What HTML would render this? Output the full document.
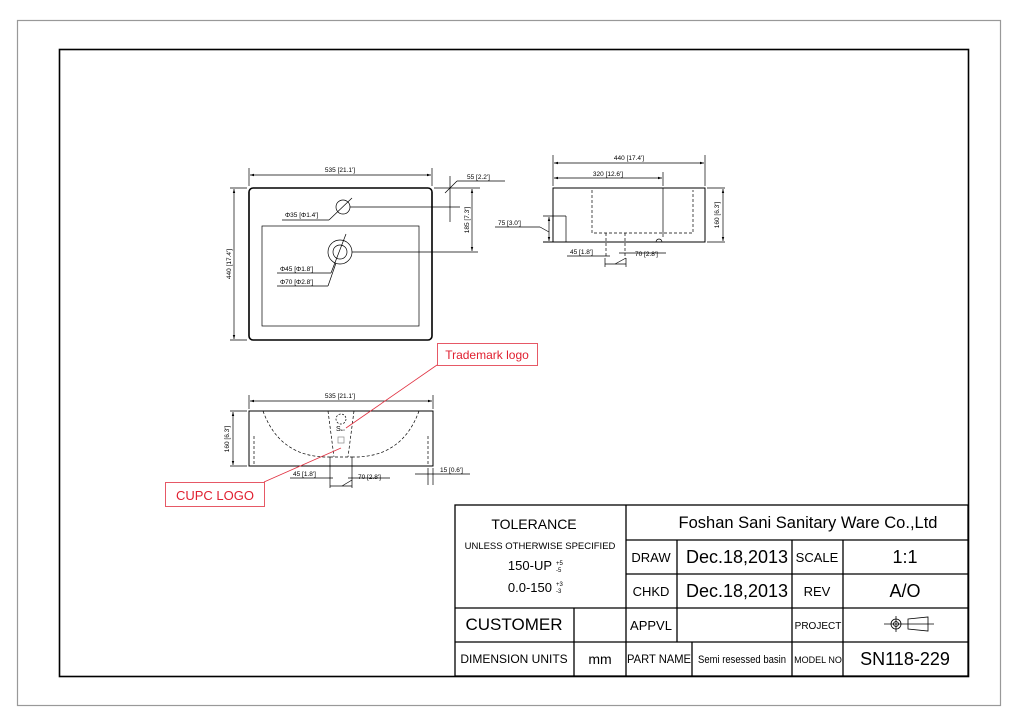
<!DOCTYPE html>
<html><head><meta charset="utf-8"><style>
html,body{margin:0;padding:0;background:#fff}
svg{display:block}
text{font-family:"Liberation Sans",Arial,sans-serif}
</style></head><body>
<svg width="1018" height="720" viewBox="0 0 1018 720" xmlns="http://www.w3.org/2000/svg">
<defs>
<marker id="a" viewBox="0 0 10 6" refX="10" refY="3" markerWidth="6" markerHeight="4" orient="auto-start-reverse"><path d="M0,0 L10,3 L0,6z" fill="#000"/></marker>
</defs>
<rect x="17.5" y="20.5" width="983" height="685" fill="none" stroke="#999" stroke-width="1.2"/>
<rect x="59.5" y="49.5" width="909" height="627" fill="none" stroke="#000" stroke-width="1.6"/>

<!-- TOP VIEW -->
<g stroke="#000" fill="none" stroke-width="0.7">
<rect x="249" y="188" width="183" height="152" rx="4" stroke-width="1.6"/>
<rect x="262" y="226" width="157" height="100"/>
<circle cx="343" cy="207" r="7"/>
<circle cx="340" cy="252" r="12"/>
<circle cx="340" cy="252" r="7"/>
<line x1="249" y1="168" x2="249" y2="186"/><line x1="432" y1="168" x2="432" y2="186"/>
<line x1="250" y1="175" x2="431" y2="175" marker-start="url(#a)" marker-end="url(#a)"/>
<line x1="230" y1="188" x2="247" y2="188"/><line x1="230" y1="340" x2="247" y2="340"/>
<line x1="234" y1="189" x2="234" y2="339" marker-start="url(#a)" marker-end="url(#a)"/>
<line x1="434" y1="188" x2="480" y2="188"/>
<line x1="450" y1="176" x2="450" y2="222"/>
<line x1="445" y1="193" x2="457" y2="181"/>
<line x1="457" y1="181" x2="505" y2="181"/>
<line x1="350" y1="207" x2="460" y2="207"/>
<line x1="352" y1="252" x2="478" y2="252"/>
<line x1="472" y1="189" x2="472" y2="251" marker-start="url(#a)" marker-end="url(#a)"/>
<line x1="352" y1="198" x2="329" y2="220"/><line x1="329" y1="220" x2="282" y2="220"/>
<line x1="346" y1="234" x2="331" y2="273"/><line x1="331" y1="273" x2="277" y2="273"/>
<line x1="336" y1="263" x2="328" y2="286"/><line x1="328" y1="286" x2="277" y2="286"/>
</g>
<g fill="#000" font-size="6.5">
<text x="340" y="172" text-anchor="middle">535 [21.1']</text>
<text x="467" y="179">55 [2.2']</text>
<text x="285" y="217">Φ35 [Φ1.4']</text>
<text x="280" y="271">Φ45 [Φ1.8']</text>
<text x="280" y="284">Φ70 [Φ2.8']</text>
<text transform="translate(231,264) rotate(-90)" text-anchor="middle">440 [17.4']</text>
<text transform="translate(469,220) rotate(-90)" text-anchor="middle">185 [7.3']</text>
</g>

<!-- SIDE VIEW -->
<g stroke="#000" fill="none" stroke-width="0.7">
<polyline points="553,242 553,188 705,188 705,242 543,242" stroke-width="1"/>
<line x1="543" y1="216" x2="566" y2="216"/>
<line x1="566" y1="216" x2="566" y2="242"/>
<line x1="663" y1="188" x2="663" y2="237"/>
<path d="M656,242 a3,3 0 0 1 6,0"/>
<path d="M592,190 V233 H693 V190" stroke-dasharray="3,2"/>
<line x1="606" y1="233" x2="606" y2="258" stroke-dasharray="3,2"/>
<line x1="625" y1="233" x2="625" y2="258" stroke-dasharray="3,2"/>
<line x1="553" y1="155" x2="553" y2="186"/><line x1="705" y1="155" x2="705" y2="186"/>
<line x1="554" y1="163" x2="704" y2="163" marker-start="url(#a)" marker-end="url(#a)"/>
<line x1="663" y1="172" x2="663" y2="186"/>
<line x1="554" y1="178" x2="662" y2="178" marker-start="url(#a)" marker-end="url(#a)"/>
<line x1="707" y1="188" x2="725" y2="188"/><line x1="707" y1="242" x2="725" y2="242"/>
<line x1="723" y1="189" x2="723" y2="241" marker-start="url(#a)" marker-end="url(#a)"/>
<line x1="549" y1="217" x2="549" y2="241" marker-start="url(#a)" marker-end="url(#a)"/>
<line x1="495" y1="227" x2="540" y2="227"/><line x1="540" y1="227" x2="549" y2="232"/>
<line x1="567" y1="256" x2="610" y2="256"/>
<line x1="619" y1="253" x2="666" y2="253"/>
<line x1="605" y1="258" x2="605" y2="267"/><line x1="626" y1="258" x2="626" y2="267"/>
<line x1="605" y1="264" x2="626" y2="264"/><line x1="615" y1="264" x2="626" y2="258"/>
</g>
<g fill="#000" font-size="6.5">
<text x="629" y="160" text-anchor="middle">440 [17.4']</text>
<text x="608" y="176" text-anchor="middle">320 [12.6']</text>
<text x="498" y="225">75 [3.0']</text>
<text x="570" y="254">45 [1.8']</text>
<text x="635" y="256">70 [2.8']</text>
<text transform="translate(719,215) rotate(-90)" text-anchor="middle">160 [6.3']</text>
</g>

<!-- FRONT VIEW -->
<g stroke="#000" fill="none" stroke-width="0.7">
<rect x="249" y="411" width="184" height="55" stroke-width="1"/>
<path d="M263,411 Q280,458 330,457" stroke-dasharray="3,2"/>
<path d="M419,411 Q402,458 352,457" stroke-dasharray="3,2"/>
<line x1="330" y1="457" x2="352" y2="457" stroke-dasharray="3,2"/>
<line x1="328" y1="411" x2="334" y2="457" stroke-dasharray="3,2"/>
<line x1="354" y1="411" x2="348" y2="457" stroke-dasharray="3,2"/>
<line x1="254" y1="436" x2="254" y2="466" stroke-dasharray="3,2"/>
<line x1="428" y1="436" x2="428" y2="466" stroke-dasharray="3,2"/>
<ellipse cx="341" cy="419" rx="5" ry="5" stroke-dasharray="2,1.5"/>
<rect x="338" y="437" width="6" height="6" stroke="#888"/>
<line x1="330" y1="457" x2="330" y2="488"/><line x1="352" y1="457" x2="352" y2="488"/>
<line x1="249" y1="395" x2="249" y2="409"/><line x1="433" y1="395" x2="433" y2="409"/>
<line x1="250" y1="401" x2="432" y2="401" marker-start="url(#a)" marker-end="url(#a)"/>
<line x1="230" y1="411" x2="247" y2="411"/><line x1="230" y1="466" x2="247" y2="466"/>
<line x1="233" y1="412" x2="233" y2="465" marker-start="url(#a)" marker-end="url(#a)"/>
<line x1="290" y1="478" x2="333" y2="478"/>
<line x1="348" y1="478" x2="390" y2="478"/>
<line x1="330" y1="486" x2="352" y2="486"/><line x1="342" y1="486" x2="352" y2="480"/>
<line x1="428" y1="468" x2="428" y2="485"/><line x1="433" y1="468" x2="433" y2="485"/>
<line x1="415" y1="474" x2="470" y2="474"/>
</g>
<text x="336" y="431" font-size="7" fill="#000">S<tspan font-size="3">ani</tspan></text>
<g fill="#000" font-size="6.5">
<text x="340" y="398" text-anchor="middle">535 [21.1']</text>
<text x="293" y="476">45 [1.8']</text>
<text x="358" y="479">70 [2.8']</text>
<text x="440" y="472">15 [0.6']</text>
<text transform="translate(229,439) rotate(-90)" text-anchor="middle">160 [6.3']</text>
</g>

<!-- red callouts -->
<g stroke="#e03040" fill="none" stroke-width="0.8">
<rect x="437.5" y="343.5" width="100" height="22" fill="#fff"/>
<rect x="165.5" y="482.5" width="99" height="24" fill="#fff"/>
<line x1="437" y1="365" x2="346" y2="428"/>
<line x1="264" y1="482" x2="341" y2="448"/>
</g>
<text x="487" y="359" font-size="12" fill="#e02030" text-anchor="middle">Trademark logo</text>
<text x="215" y="500" font-size="13" fill="#e02030" text-anchor="middle">CUPC LOGO</text>

<!-- TITLE BLOCK -->
<g stroke="#000" fill="none" stroke-width="1.3">
<rect x="455" y="505" width="513" height="171"/>
<line x1="626" y1="505" x2="626" y2="676"/>
<line x1="626" y1="540" x2="968" y2="540"/>
<line x1="626" y1="574" x2="968" y2="574"/>
<line x1="455" y1="608" x2="968" y2="608"/>
<line x1="455" y1="642" x2="968" y2="642"/>
<line x1="574" y1="608" x2="574" y2="676"/>
<line x1="677" y1="540" x2="677" y2="642"/>
<line x1="692" y1="642" x2="692" y2="676"/>
<line x1="792" y1="540" x2="792" y2="676"/>
<line x1="843" y1="540" x2="843" y2="676"/>
</g>
<g fill="#000">
<text x="534" y="529" font-size="14" text-anchor="middle">TOLERANCE</text>
<text x="540" y="549" font-size="9.5" text-anchor="middle">UNLESS OTHERWISE SPECIFIED</text>
<text x="552" y="570" font-size="13" text-anchor="end">150-UP</text>
<text x="556" y="565" font-size="6">+5</text><text x="556" y="572" font-size="6">-5</text>
<text x="552" y="592" font-size="13" text-anchor="end">0.0-150</text>
<text x="556" y="586" font-size="6">+3</text><text x="556" y="593" font-size="6">-3</text>
<text x="808" y="528" font-size="16.5" text-anchor="middle">Foshan Sani Sanitary Ware Co.,Ltd</text>
<text x="651" y="562" font-size="13" text-anchor="middle">DRAW</text>
<text x="737" y="563" font-size="18" text-anchor="middle">Dec.18,2013</text>
<text x="817" y="562" font-size="13" text-anchor="middle">SCALE</text>
<text x="905" y="563" font-size="18" text-anchor="middle">1:1</text>
<text x="651" y="596" font-size="13" text-anchor="middle">CHKD</text>
<text x="737" y="597" font-size="18" text-anchor="middle">Dec.18,2013</text>
<text x="817" y="596" font-size="13" text-anchor="middle">REV</text>
<text x="905" y="597" font-size="18" text-anchor="middle">A/O</text>
<text x="514" y="630" font-size="17" text-anchor="middle">CUSTOMER</text>
<text x="651" y="630" font-size="13" text-anchor="middle">APPVL</text>
<text x="818" y="629" font-size="10" text-anchor="middle">PROJECT</text>
<text x="514" y="663" font-size="12" text-anchor="middle">DIMENSION UNITS</text>
<text x="600" y="664" font-size="14" text-anchor="middle">mm</text>
<text x="659" y="663" font-size="11.5" text-anchor="middle" textLength="64" lengthAdjust="spacingAndGlyphs">PART NAME</text>
<text x="742" y="663" font-size="11" text-anchor="middle" textLength="88" lengthAdjust="spacingAndGlyphs">Semi resessed basin</text>
<text x="818" y="663" font-size="9" text-anchor="middle">MODEL NO</text>
<text x="905" y="665" font-size="18" text-anchor="middle">SN118-229</text>
</g>
<g stroke="#000" fill="none" stroke-width="0.8">
<circle cx="896" cy="624" r="5"/><circle cx="896" cy="624" r="2.5"/>
<line x1="884" y1="624" x2="934" y2="624"/>
<line x1="896" y1="616" x2="896" y2="632"/>
<polygon points="908,619 928,617 928,631 908,629"/>
</g>
</svg>
</body></html>
